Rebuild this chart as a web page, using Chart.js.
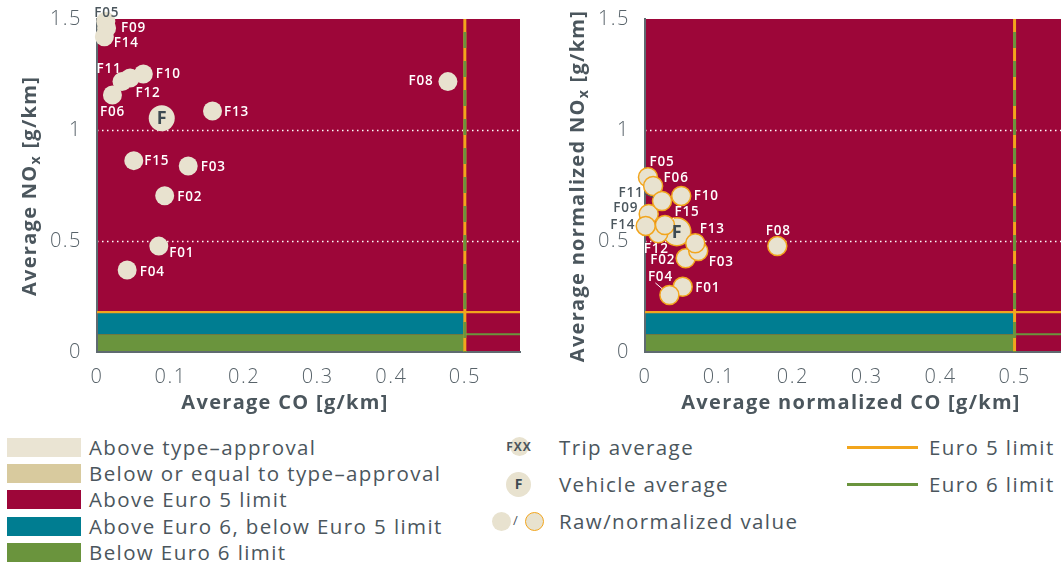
<!DOCTYPE html>
<html><head><meta charset="utf-8">
<script src="https://cdn.jsdelivr.net/npm/chart.js@4.4.0/dist/chart.umd.min.js"></script>
<style>
html,body{overflow:hidden}
body{margin:0;background:#fff;width:1061px;height:564px;position:relative;font-family:'Open Sans',sans-serif;color:#4B565D}
canvas{position:absolute;top:0}
#c1{left:0}
#c2{left:550px}
.sw{position:absolute;left:7px;width:74px;height:19px}
.lt{position:absolute;font-size:20.5px;line-height:22px;white-space:nowrap;color:#4B565D;letter-spacing:1.4px}
.dot{position:absolute;border-radius:50%;background:#E8E2CF;box-sizing:border-box}
.ln{position:absolute;left:847px;width:71px;height:3px}
</style></head>
<body>
<canvas id="c1" width="540" height="425"></canvas>
<canvas id="c2" width="540" height="425"></canvas>

<div class="sw" style="top:438px;background:#EAE4D3"></div><div class="lt" style="left:89px;top:436px">Above type–approval</div>
<div class="sw" style="top:464px;background:#D8CA9E"></div><div class="lt" style="left:89px;top:462px">Below or equal to type–approval</div>
<div class="sw" style="top:490px;background:#9D0639"></div><div class="lt" style="left:89px;top:488px">Above Euro 5 limit</div>
<div class="sw" style="top:517px;background:#007D91"></div><div class="lt" style="left:89px;top:515px">Above Euro 6, below Euro 5 limit</div>
<div class="sw" style="top:543px;background:#6A943D"></div><div class="lt" style="left:89px;top:541px">Below Euro 6 limit</div>

<div class="dot" style="left:510px;top:437px;width:19px;height:19px"></div>
<div style="position:absolute;left:501px;top:438px;width:36px;text-align:center;font-size:12px;font-weight:700;color:#4B565D;letter-spacing:1px">FXX</div>
<div class="lt" style="left:559px;top:436px">Trip average</div>
<div class="dot" style="left:506px;top:472px;width:25px;height:25px"></div>
<div style="position:absolute;left:506px;top:474px;width:25px;text-align:center;font-size:14px;font-weight:700;color:#3D4A52">F</div>
<div class="lt" style="left:559px;top:473px">Vehicle average</div>
<div class="dot" style="left:492px;top:512px;width:19px;height:19px"></div>
<div style="position:absolute;left:513px;top:511px;font-size:13px;color:#4B565D">/</div>
<div class="dot" style="left:525px;top:512px;width:19px;height:19px;border:1.5px solid #F2A51D"></div>
<div class="lt" style="left:559px;top:510px">Raw/normalized value</div>

<div class="ln" style="top:446px;background:#F2A51D"></div><div class="lt" style="left:929px;top:436px">Euro 5 limit</div>
<div class="ln" style="top:483px;background:#6A943D"></div><div class="lt" style="left:929px;top:473px">Euro 6 limit</div>

<script>
// ---- data ----
const tripNames = ['F01','F02','F03','F04','F05','F06','F08','F09','F10','F11','F12','F13','F14','F15'];
const rawCO   = [0.084,0.092,0.124,0.041,0.012,0.021,0.477,0.013,0.063,0.034,0.045,0.157,0.010,0.050];
const rawNOx  = [0.477,0.704,0.838,0.369,1.490,1.158,1.218,1.460,1.252,1.218,1.234,1.086,1.420,0.862];
const normCO  = [0.051,0.055,0.072,0.033,0.004,0.011,0.179,0.005,0.049,0.023,0.018,0.068,0.001,0.027];
const normNOx = [0.294,0.422,0.455,0.257,0.787,0.748,0.477,0.622,0.703,0.680,0.535,0.490,0.568,0.572];
const vehicleRawCO = 0.088, vehicleRawNOx = 1.053;
const vehicleNormCO = 0.043, vehicleNormNOx = 0.542;
const euro5CO = 0.5, euro5NOx = 0.18;
const euro6CO = 0.5, euro6NOx = 0.08;
const xTicks = [0,0.1,0.2,0.3,0.4,0.5];
const yTicks = [0,0.5,1,1.5];
const xMax = 0.575, yMax = 1.5;

// ---- layout / style (not data) ----
const CRIMSON='#9D0639', BLUE='#007D91', GREEN='#6A943D', ORANGE='#F2A51D', BEIGE='#E8E2CF', TXT='#4B565D';
const rawLabelPos = {F01:[23,7],F02:[25,1],F03:[25,1],F04:[25,2],F05:[1,-8],F06:[0,17],F08:[-27,0],F09:[27,0],F10:[25,0],F11:[-13,-12],F12:[18,15],F13:[24,1],F14:[22,6],F15:[23,1]};
const normLabelPos = {F01:[25,1],F02:[-23,2],F03:[23,11],F04:[-9,-18],F05:[14,-15],F06:[23,-8],F08:[1,-15],F09:[-23,-6],F10:[25,0],F11:[-31,-8],F12:[-2,16],F13:[17,-14],F14:[-23,-1],F15:[22,-13]};
const normLeaders = {F04:[-5,6],F11:[14,1],F15:[-13,6]};

function line(ctx,x1,y1,x2,y2){ctx.beginPath();ctx.moveTo(x1,y1);ctx.lineTo(x2,y2);ctx.stroke();}

const zonesPlugin = {
  id:'zones',
  beforeDraw(chart){
    const {ctx, chartArea:a, scales:{x,y}} = chart;
    ctx.letterSpacing = '1.5px';
    const xL = x.getPixelForValue(euro5CO);
    const y5 = y.getPixelForValue(euro5NOx), y6 = y.getPixelForValue(euro6NOx), y0 = y.getPixelForValue(0);
    ctx.save();
    ctx.fillStyle = CRIMSON; ctx.fillRect(a.left,a.top,a.right-a.left,a.bottom-a.top);
    ctx.fillStyle = BLUE; ctx.fillRect(a.left,y5,xL-a.left,y6-y5);
    ctx.fillStyle = GREEN; ctx.fillRect(a.left,y6,xL-a.left,y0-y6);
    ctx.strokeStyle='#fff'; ctx.lineWidth=1.5; ctx.setLineDash([1.5,3.5]);
    yTicks.forEach(v=>{ if(v<=0||v>=y.max) return; const py=Math.round(y.getPixelForValue(v))+0.5; line(ctx,a.left,py,a.right,py); });
    ctx.restore();
  },
  beforeDatasetsDraw(chart){
    const {ctx, chartArea:a, scales:{x,y}} = chart;
    const xL = x.getPixelForValue(euro5CO);
    const y5 = y.getPixelForValue(euro5NOx), y6 = y.getPixelForValue(euro6NOx);
    ctx.save();
    ctx.lineWidth=2.2;
    ctx.strokeStyle=ORANGE; line(ctx,a.left,y5,a.right,y5);
    ctx.strokeStyle=GREEN; line(ctx,x.getPixelForValue(euro6CO),y6,a.right,y6);
    ctx.lineWidth=3;
    ctx.strokeStyle=ORANGE; line(ctx,xL,a.top,xL,a.bottom);
    ctx.strokeStyle=GREEN; ctx.setLineDash([16,13]); ctx.lineDashOffset=-13; line(ctx,xL,a.top,xL,a.bottom);
    ctx.restore();
  }
};

const labelsPlugin = {
  id:'tripLabels',
  afterDatasetsDraw(chart, args, opts){
    const {ctx, chartArea:a} = chart;
    const meta = chart.getDatasetMeta(0);
    ctx.save();
    ctx.letterSpacing='0.8px';
    ctx.textAlign='center'; ctx.textBaseline='middle';
    meta.data.forEach((el,i)=>{
      const name = tripNames[i]; const off = opts.pos[name];
      const lx = el.x+off[0], ly = el.y+off[1];
      const outside = ly < a.top || lx < a.left;
      if (opts.leaders && opts.leaders[name]) {
        const s = opts.leaders[name]; const sx = lx+s[0], sy = ly+s[1];
        const dx = el.x-sx, dy = el.y-sy, d = Math.hypot(dx,dy);
        ctx.strokeStyle = outside ? TXT : '#fff'; ctx.lineWidth=1;
        line(ctx,sx,sy,el.x-dx/d*9.5,el.y-dy/d*9.5);
      }
      ctx.font='600 13.5px "Open Sans"';
      ctx.fillStyle = outside ? TXT : '#fff';
      ctx.fillText(name, lx, ly);
    });
    const v = chart.getDatasetMeta(1).data[0];
    ctx.letterSpacing='0px';
    ctx.font='700 18px "Open Sans"'; ctx.fillStyle='#3D4A52';
    ctx.fillText('F', v.x, v.y+1);
    ctx.restore();
  }
};

const titlesPlugin = {
  id:'axisTitles',
  afterDraw(chart, args, o){
    const ctx = chart.ctx;
    ctx.save();
    ctx.letterSpacing='1.3px';
    ctx.fillStyle = TXT; ctx.textBaseline='middle';
    ctx.font='700 20px "Open Sans"'; ctx.textAlign='center';
    ctx.fillText(o.xText, o.xPos[0], o.xPos[1]);
    ctx.translate(o.yPos[0], o.yPos[1]); ctx.rotate(-Math.PI/2);
    const big='700 20px "Open Sans"', small='700 14px "Open Sans"';
    const parts=[[o.yText[0],big,0],['x',small,6],[o.yText[1],big,0]];
    let w=0; parts.forEach(p=>{ctx.font=p[1]; w+=ctx.measureText(p[0]).width;});
    let cx=-w/2; ctx.textAlign='left';
    parts.forEach(p=>{ctx.font=p[1]; ctx.fillText(p[0],cx,p[2]); cx+=ctx.measureText(p[0]).width;});
    ctx.restore();
  }
};

function makeChart(id, xs, ys, vx, vy, cfg){
  const pts = xs.map((v,i)=>({x:v,y:ys[i]}));
  return new Chart(document.getElementById(id), {
    type:'scatter',
    data:{datasets:[
      {data:pts, pointRadius:9.5, backgroundColor:BEIGE, borderColor:cfg.border, borderWidth:cfg.bw, clip:false},
      {data:[{x:vx,y:vy}], pointRadius:cfg.vr, backgroundColor:BEIGE, borderColor:cfg.border, borderWidth:cfg.bw, clip:false}
    ]},
    options:{
      responsive:false, animation:false, events:[],
      layout:{padding:{top:19,right:20,left:0,bottom:0}},
      plugins:{legend:{display:false},tooltip:{enabled:false},
        tripLabels:{pos:cfg.pos, leaders:cfg.leaders},
        axisTitles:{xText:cfg.xTitle, xPos:cfg.xTitlePos, yText:cfg.yTitle, yPos:cfg.yTitlePos}},
      scales:{
        x:{type:'linear',min:0,max:xMax,
           afterFit(s){s.height=73;},
           afterBuildTicks(s){s.ticks=xTicks.map(v=>({value:v}));},
           ticks:{font:{family:'Open Sans',size:20,weight:'300'},color:'#58636A',padding:5,maxRotation:0,callback:v=>String(v)},
           grid:{display:false}, border:{display:true,color:'#5F6A70',width:2}},
        y:{type:'linear',min:0,max:yMax,
           afterFit(s){s.width=cfg.yw;},
           afterBuildTicks(s){s.ticks=yTicks.map(v=>({value:v}));},
           ticks:{font:{family:'Open Sans',size:20,weight:'300'},color:'#58636A',padding:7,callback:v=>String(v)},
           grid:{display:false}, border:{display:true,color:'#5F6A70',width:2}}
      }
    },
    plugins:[zonesPlugin, labelsPlugin, titlesPlugin]
  });
}

makeChart('c1', rawCO, rawNOx, vehicleRawCO, vehicleRawNOx, {
  border:'rgba(0,0,0,0)', bw:0, vr:13, yw:97,
  pos:rawLabelPos, leaders:null,
  xTitle:'Average CO [g/km]', xTitlePos:[285,403], yTitle:['Average NO',' [g/km]'], yTitlePos:[30,186]
});
makeChart('c2', normCO, normNOx, vehicleNormCO, vehicleNormNOx, {
  border:ORANGE, bw:1.5, vr:14, yw:95,
  pos:normLabelPos, leaders:normLeaders,
  xTitle:'Average normalized CO [g/km]', xTitlePos:[301,403], yTitle:['Average normalized NO',' [g/km]'], yTitlePos:[28,186]
});
</script>
</body></html>
